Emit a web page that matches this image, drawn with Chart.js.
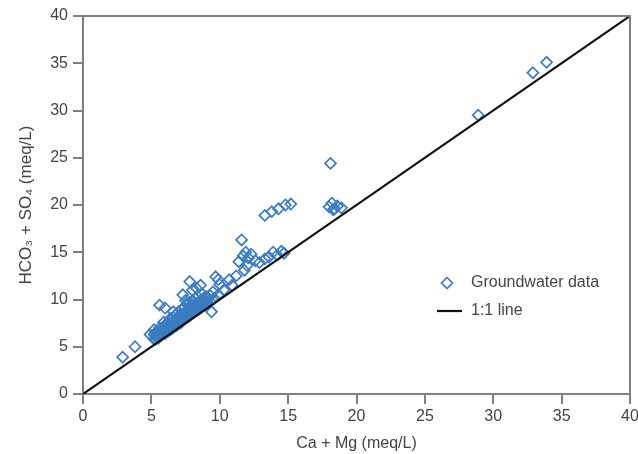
<!DOCTYPE html>
<html>
<head>
<meta charset="utf-8">
<script src="https://cdn.jsdelivr.net/npm/chart.js@4"></script>
<style>
  html, body { margin: 0; padding: 0; background: #fff; }
  #wrap { width: 638px; height: 454px; position: relative; }
</style>
</head>
<body>
<div id="wrap"><canvas id="c" width="638" height="454"></canvas></div>
<script>
// ---- data ----
const groundwaterX = [
  2.9, 3.8, 4.9, 5.2,
  5.2, 5.2, 5.4, 5.4, 5.6, 5.6, 5.6, 5.8, 5.8, 6.0, 6.0, 6.0,
  6.2, 6.2, 6.2, 6.4, 6.4, 6.4, 6.6, 6.6, 6.6, 6.8, 6.8, 6.8,
  7.0, 7.0, 7.0, 7.2, 7.2, 7.2, 7.4, 7.4, 7.4, 7.6, 7.6, 7.6,
  7.8, 7.8, 7.8, 8.0, 8.0, 8.0, 8.2, 8.2, 8.2, 8.4, 8.4, 8.4,
  8.6, 8.6, 8.8, 8.8, 9.0, 9.0, 9.3, 9.3, 9.6, 9.9,
  5.3, 5.3, 5.5, 5.5, 5.7, 5.7, 5.9, 5.9, 6.1, 6.1, 6.3, 6.3, 6.5, 6.5, 6.7, 6.7,
  6.9, 6.9, 7.1, 7.1, 7.3, 7.3, 7.5, 7.5, 7.7, 7.7, 7.9, 7.9, 8.1, 8.1, 8.3, 8.3,
  8.5, 8.5, 8.7, 8.7, 8.9, 8.9, 9.1, 9.1,
  5.5, 6.3, 7.1, 7.9, 8.5, 9.1, 6.9, 7.5, 8.7, 9.5,
  5.6, 6.0, 6.6, 6.4, 5.9, 7.8, 8.0, 8.6, 9.7, 9.9, 7.3, 8.3, 9.4,
  10.0, 10.3, 10.7, 10.9, 11.2,
  11.6, 11.4, 11.7, 11.9, 12.1, 12.3, 12.0, 11.8, 12.6, 12.9, 13.3, 13.6, 13.9, 14.2, 14.5, 14.7,
  13.3, 13.8, 14.3, 14.8, 15.2,
  18.1, 18.0, 18.2, 18.4, 18.6, 18.9, 18.3,
  28.9, 32.9, 33.9
];
const groundwaterY = [
  3.9, 5.0, 6.3, 6.8,
  5.8, 6.3, 6.0, 6.6, 6.1, 6.5, 7.0, 6.3, 6.8, 6.4, 6.9, 7.3,
  6.6, 7.1, 7.6, 6.8, 7.3, 7.8, 7.0, 7.5, 8.1, 7.2, 7.8, 8.4,
  7.4, 8.0, 8.7, 7.6, 8.2, 8.9, 7.9, 8.5, 9.2, 8.1, 8.8, 9.5,
  8.3, 9.0, 9.7, 8.6, 9.2, 9.9, 8.8, 9.5, 10.1, 9.0, 9.7, 10.3,
  9.2, 9.9, 9.4, 10.1, 9.6, 10.3, 9.8, 10.4, 10.1, 10.5,
  5.8, 6.4, 6.0, 6.6, 6.2, 6.8, 6.4, 7.0, 6.6, 7.2, 6.8, 7.4, 7.0, 7.6, 7.2, 7.8,
  7.4, 8.0, 7.6, 8.2, 7.8, 8.4, 8.0, 8.6, 8.2, 8.8, 8.4, 9.0, 8.6, 9.2, 8.8, 9.4,
  9.0, 9.6, 9.2, 9.8, 9.4, 10.0, 9.6, 10.2,
  5.9, 7.0, 8.4, 9.4, 9.5, 10.0, 7.5, 9.9, 10.6, 10.8,
  9.4, 9.1, 8.7, 8.0, 7.6, 11.9, 11.0, 11.5, 12.4, 12.1, 10.5, 11.2, 8.7,
  11.6, 11.0, 12.1, 11.5, 12.5,
  16.3, 14.0, 14.6, 15.0, 14.4, 14.8, 13.6, 13.1, 14.1, 13.9, 14.3, 14.5, 15.0, 14.7, 15.1, 14.9,
  18.9, 19.3, 19.6, 20.0, 20.1,
  24.4, 19.8, 20.2, 19.6, 19.9, 19.7, 19.5,
  29.5, 34.0, 35.1
];
const lineX = [0, 40];
const lineY = [0, 40];
const tickValues = [0, 5, 10, 15, 20, 25, 30, 35, 40];
const seriesNames = ['Groundwater data', '1:1 line'];
const axisTitles = { x: 'Ca + Mg (meq/L)', y: 'HCO\u2083 + SO\u2084 (meq/L)' };

// ---- styling ----
const FONT = "'Liberation Sans', Arial, sans-serif";
const FS = 16;
const BLUE = '#3d7cc0';
const AXIS = '#808080';
const TEXT = '#444444';

const scatterData = groundwaterX.map((x, i) => ({ x: x, y: groundwaterY[i] }));
const lineData = lineX.map((x, i) => ({ x: x, y: lineY[i] }));

const boxPlugin = {
  id: 'box',
  afterDatasetsDraw(chart) {
    const { ctx, chartArea: a } = chart;
    ctx.save();
    ctx.strokeStyle = AXIS;
    ctx.lineWidth = 2;
    ctx.beginPath();
    ctx.moveTo(a.left, a.top);
    ctx.lineTo(a.right, a.top);
    ctx.lineTo(a.right, a.bottom);
    ctx.stroke();
    ctx.restore();
  }
};

const legendPlugin = {
  id: 'customLegend',
  afterDraw(chart) {
    const { ctx } = chart;
    const d0 = chart.data.datasets[0];
    const d1 = chart.data.datasets[1];
    ctx.save();
    ctx.font = FS + 'px ' + FONT;
    ctx.fillStyle = TEXT;
    ctx.textBaseline = 'middle';
    ctx.textAlign = 'left';
    const mx = 447, my = 283, r = 5.5;
    ctx.strokeStyle = d0.borderColor;
    ctx.lineWidth = d0.borderWidth;
    ctx.beginPath();
    ctx.moveTo(mx, my - r); ctx.lineTo(mx + r, my); ctx.lineTo(mx, my + r); ctx.lineTo(mx - r, my); ctx.closePath();
    ctx.stroke();
    ctx.fillText(d0.label, 471, my);
    ctx.strokeStyle = d1.borderColor;
    ctx.lineWidth = d1.borderWidth;
    ctx.beginPath();
    ctx.moveTo(437, 311); ctx.lineTo(462, 311);
    ctx.stroke();
    ctx.fillText(d1.label, 471, 311);
    ctx.restore();
  }
};

new Chart(document.getElementById('c'), {
  type: 'scatter',
  data: {
    datasets: [
      {
        label: seriesNames[0],
        data: scatterData,
        pointStyle: 'rectRot',
        pointRadius: 5.5,
        pointHoverRadius: 5.5,
        borderColor: BLUE,
        backgroundColor: 'rgba(255,255,255,0)',
        borderWidth: 1.7,
        order: 2
      },
      {
        type: 'line',
        label: seriesNames[1],
        data: lineData,
        borderColor: '#111111',
        borderWidth: 2.2,
        pointRadius: 0,
        fill: false,
        order: 1
      }
    ]
  },
  options: {
    responsive: false,
    animation: false,
    devicePixelRatio: 1,
    layout: { padding: { top: 16, right: 8, left: 0, bottom: 0 } },
    plugins: {
      legend: { display: false },
      tooltip: { enabled: false }
    },
    scales: {
      x: {
        type: 'linear',
        min: 0, max: 40,
        afterBuildTicks(s) { s.ticks = tickValues.map(v => ({ value: v })); },
        afterFit(s) { s.height = 60; s.paddingLeft = 0; s.paddingRight = 0; },
        ticks: { color: TEXT, font: { family: FONT, size: FS }, padding: 3, maxRotation: 0 },
        grid: { drawOnChartArea: false, drawTicks: true, tickLength: 10, color: AXIS, lineWidth: 2 },
        border: { color: AXIS, width: 2 },
        title: { display: true, text: axisTitles.x, color: TEXT, font: { family: FONT, size: FS }, padding: { top: 0, bottom: 1 } }
      },
      y: {
        type: 'linear',
        min: 0, max: 40,
        afterBuildTicks(s) { s.ticks = tickValues.map(v => ({ value: v })); },
        afterFit(s) { s.width = 83; s.paddingTop = 0; s.paddingBottom = 0; },
        ticks: { color: TEXT, font: { family: FONT, size: FS }, padding: 5 },
        grid: { drawOnChartArea: false, drawTicks: true, tickLength: 10, color: AXIS, lineWidth: 2 },
        border: { color: AXIS, width: 2 },
        title: { display: true, text: axisTitles.y, color: TEXT, font: { family: FONT, size: 17 }, padding: { top: 16, bottom: 0 } }
      }
    }
  },
  plugins: [boxPlugin, legendPlugin]
});
</script>
</body>
</html>
